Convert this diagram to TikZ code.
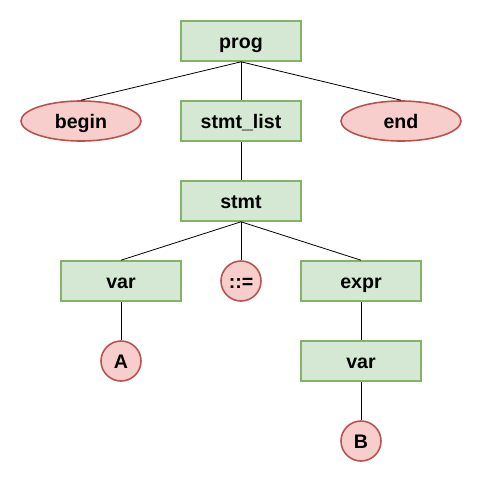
\documentclass[tikz,border=0pt]{standalone}
\usepackage{fontspec}
\setmainfont{Liberation Sans}
\usetikzlibrary{shapes.geometric}
\definecolor{gfill}{HTML}{D5E8D4}
\definecolor{gline}{HTML}{82B366}
\definecolor{rfill}{HTML}{F8CECC}
\definecolor{rline}{HTML}{B85450}
\begin{document}
\begin{tikzpicture}[x=1pt,y=-1pt,
  every node/.style={font=\fontsize{19.6}{22}\selectfont\bfseries, inner sep=0pt, text height=15pt, text depth=0pt},
  gbox/.style={draw=gline, fill=gfill, line width=1.6pt, minimum width=120pt, minimum height=40pt},
  rell/.style={ellipse, draw=rline, fill=rfill, line width=1.6pt, minimum width=120pt, minimum height=40pt},
  rcirc/.style={circle, draw=rline, fill=rfill, line width=1.6pt, minimum size=40pt},
  edge/.style={draw=black, line width=0.8pt}]
\useasboundingbox (0,0) rectangle (482,482);
\node[gbox] (prog) at (241,41) {prog};
\node[rell] (begin) at (81,121) {begin};
\node[gbox] (stmtlist) at (241,121) {stmt\_list};
\node[rell] (end) at (401,121) {end};
\node[gbox] (stmt) at (241,201) {stmt};
\node[gbox] (var) at (121,281) {var};
\node[rcirc] (assign) at (241,281) {::=};
\node[gbox] (expr) at (361,281) {expr};
\node[rcirc] (A) at (121,361) {A};
\node[gbox] (var2) at (361,361) {var};
\node[rcirc] (B) at (361,441) {B};
\draw[edge] (prog.south) -- (begin.north);
\draw[edge] (prog.south) -- (stmtlist.north);
\draw[edge] (prog.south) -- (end.north);
\draw[edge] (stmtlist.south) -- (stmt.north);
\draw[edge] (stmt.south) -- (var.north);
\draw[edge] (stmt.south) -- (assign.north);
\draw[edge] (stmt.south) -- (expr.north);
\draw[edge] (var.south) -- (A.north);
\draw[edge] (expr.south) -- (var2.north);
\draw[edge] (var2.south) -- (B.north);
\end{tikzpicture}
\end{document}
